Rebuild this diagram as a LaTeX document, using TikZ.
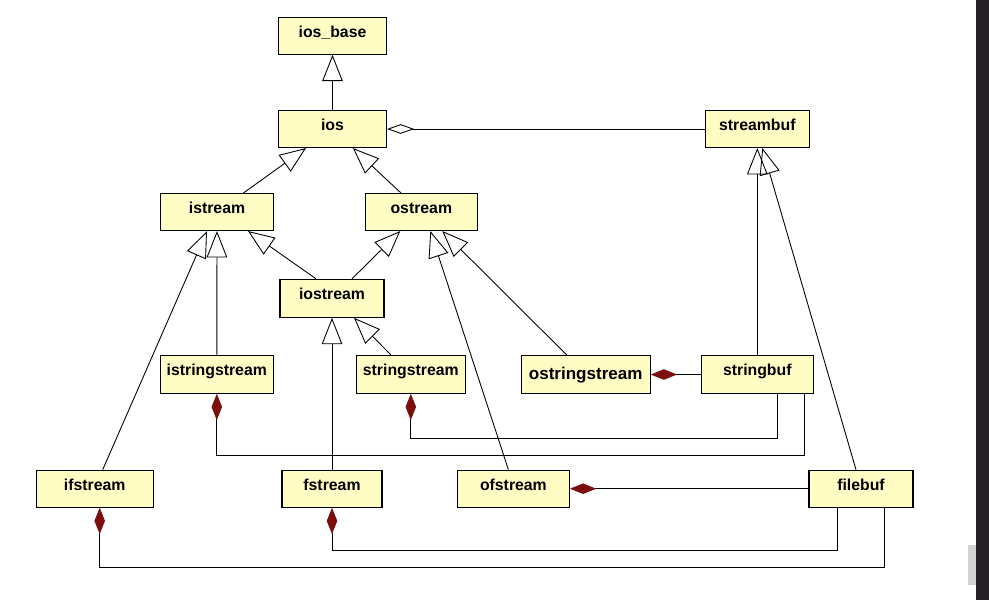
\documentclass[tikz,border=0pt]{standalone}
\usepackage{fontspec}
\setmainfont{Liberation Sans}
\usetikzlibrary{arrows.meta,calc}
\definecolor{classfill}{RGB}{255,253,196}
\definecolor{compred}{RGB}{125,14,14}
\definecolor{darkstrip}{RGB}{36,34,39}
\tikzset{
  x=0.02cm,
  y=-0.02cm,
}
\tikzstyle{class}=[draw=black,fill=classfill,line width=.6pt,inner sep=0pt,
  minimum height=.74cm,text height=6.5pt,text depth=4.9pt,
  font=\bfseries\fontsize{9}{10}\selectfont]
\tikzstyle{inherit}=[line width=.5pt,-{Triangle[open,length=15pt,width=11.7pt]}]
\tikzstyle{aggr}=[line width=.5pt,-{Diamond[open,length=15.5pt,width=5.5pt]}]
\tikzstyle{compo}=[line width=.5pt,-{Diamond[color=compred,length=15pt,width=6pt]}]

\begin{document}
\begin{tikzpicture}
    \useasboundingbox (0,0) rectangle (989,600);
    \fill[darkstrip] (976,0) rectangle (989,600);
    \fill[gray!35] (968,545) rectangle (976,585);
    \node[class,minimum width=2.16cm] (iosbase) at (332.5,35.7) {ios\_base};
    \node[class,minimum width=2.16cm] (ios) at (332.5,129) {ios};
    \node[class,minimum width=2.08cm] (streambuf) at (757.3,129) {streambuf};
    \node[class,minimum width=2.26cm] (istream) at (217,212) {istream};
    \node[class,minimum width=2.24cm] (ostream) at (421.3,212) {ostream};
    \node[class,minimum width=2.08cm,minimum height=.76cm] (iostream) at (332,298.3) {iostream};
    \node[class,minimum width=2.26cm,minimum height=.76cm] (istringstream) at (216.8,374.2) {istringstream};
    \node[class,minimum width=2.18cm,minimum height=.76cm] (stringstream) at (410.8,374.2) {stringstream};
    \node[class,minimum width=2.58cm,minimum height=.76cm,text height=7pt,text depth=1.6pt,
      font=\bfseries\fontsize{9.7}{11}\selectfont] (ostringstream) at (585.7,374.5) {ostringstream};
    \node[class,minimum width=2.24cm,minimum height=.76cm] (stringbuf) at (757.3,374.5) {stringbuf};
    \node[class,minimum width=2.34cm] (ifstream) at (94.7,488.7) {ifstream};
    \node[class,minimum width=2.0cm] (fstream) at (332,488.7) {fstream};
    \node[class,minimum width=2.24cm] (ofstream) at (513.4,488.7) {ofstream};
    \node[class,minimum width=2.08cm] (filebuf) at (861,488.7) {filebuf};
    \draw[inherit] (ios) -- (iosbase);
    \draw[inherit] (istream) -- (ios);
    \draw[inherit] (ostream) -- (ios);
    \draw[inherit] ($(iostream.north)+(-16,0)$) -- ($(istream.south)+(31,0)$);
    \draw[inherit] ($(iostream.north)+(20,0)$) -- ($(ostream.south)+(-21,0)$);
    \draw[inherit] ($(ifstream.north)+(8,0)$) -- ($(istream.south)+(-10,0)$);
    \draw[inherit] (istringstream) -- (istream);
    \draw[inherit] (fstream) -- (iostream);
    \draw[inherit] ($(stringstream.north)+(-20,0)$) -- ($(iostream.south)+(22,0)$);
    \draw[inherit] ($(ofstream.north)+(-5,0)$) -- ($(ostream.south)+(9,0)$);
    \draw[inherit] ($(ostringstream.north)+(-19,0)$) -- ($(ostream.south)+(21,0)$);
    \draw[inherit] (stringbuf) -- (streambuf);
    \draw[inherit] ($(filebuf.north)+(-5,0)$) -- ($(streambuf.south)+(5,0)$);
    \draw[aggr] (streambuf) -- (ios);
    \draw[compo] (stringbuf) -- (ostringstream);
    \draw[compo] ($(stringbuf.south)+(20,0)$) -- ++(0,44) -| (stringstream.south);
    \draw[compo] ($(stringbuf.south)+(47,0)$) -- ++(0,61) -| (istringstream.south);
    \draw[compo] (filebuf) -- (ofstream);
    \draw[compo] ($(filebuf.south)+(-24,0)$) -- ++(0,43) -| (fstream.south);
    \draw[compo] ($(filebuf.south)+(23,0)$) -- ++(0,60) -| ($(ifstream.south)+(5,0)$);
\end{tikzpicture}
\end{document}
